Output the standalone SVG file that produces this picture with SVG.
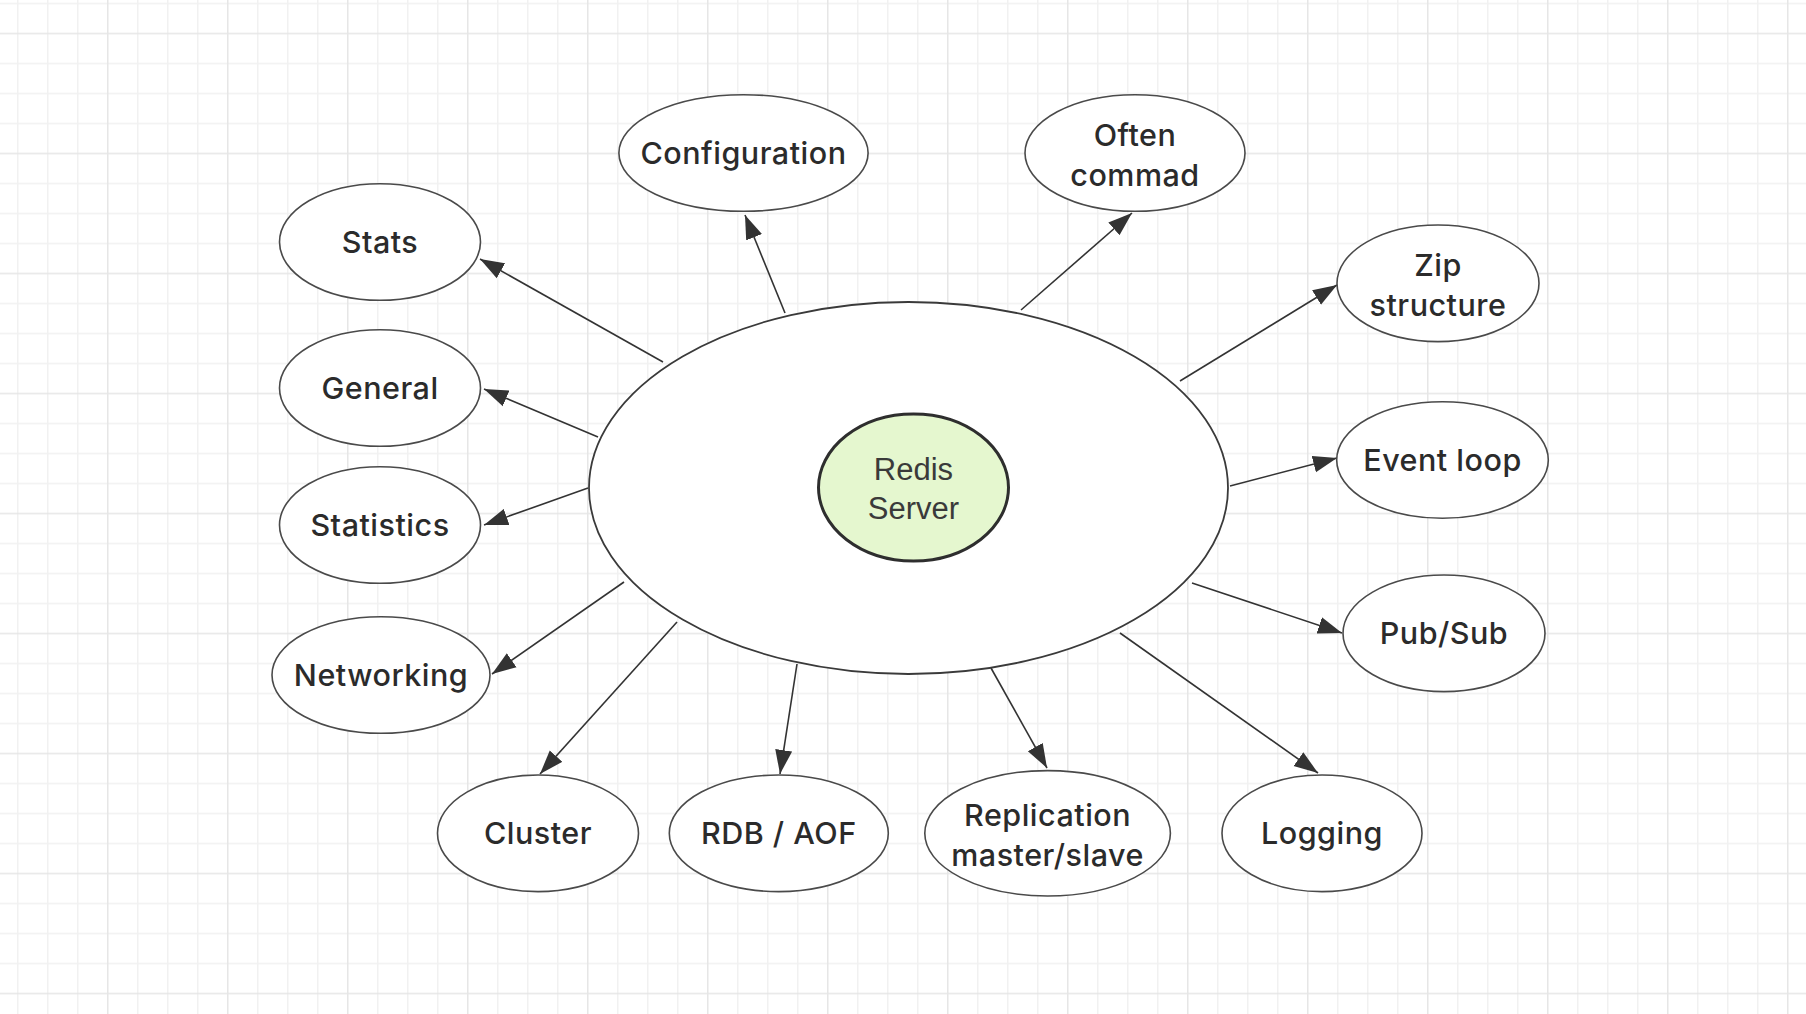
<svg xmlns="http://www.w3.org/2000/svg" width="1806" height="1014" viewBox="0 0 1806 1014">
  <defs>
    <pattern id="grid" patternUnits="userSpaceOnUse" x="107" y="32.7" width="120" height="120">
      <rect x="0" y="0" width="120" height="120" fill="#ffffff"/>
      <rect x="30" y="0" width="1.5" height="120" fill="#f1f1f1"/>
      <rect x="60" y="0" width="1.5" height="120" fill="#f1f1f1"/>
      <rect x="90" y="0" width="1.5" height="120" fill="#f1f1f1"/>
      <rect x="0" y="30" width="120" height="1.5" fill="#f1f1f1"/>
      <rect x="0" y="60" width="120" height="1.5" fill="#f1f1f1"/>
      <rect x="0" y="90" width="120" height="1.5" fill="#f1f1f1"/>
      <rect x="0" y="0" width="1.5" height="120" fill="#e6e6e6"/>
      <rect x="0" y="0" width="120" height="1.5" fill="#e6e6e6"/>
    </pattern>
    <marker id="arrow" markerUnits="userSpaceOnUse" markerWidth="25" markerHeight="18" refX="24" refY="9" orient="auto">
      <path d="M0,0.5 L24,9 L0,17.5 Z" fill="#333333"/>
    </marker>
  </defs>
  <style>
    .node { fill: #ffffff; stroke: #4a4a4a; stroke-width: 1.6; }
    .hub { fill: #ffffff; stroke: #3a3a3a; stroke-width: 1.8; }
    .core { fill: #e5f7cf; stroke: #2e2e2e; stroke-width: 3; }
    .label { font-family: Inter, "Noto Sans", "Liberation Sans", sans-serif; font-weight: 500; font-size: 30.5px; fill: #2b2b2b; text-anchor: middle; letter-spacing: 0.5px; }
    .corelabel { font-family: "Liberation Sans", Arial, sans-serif; font-size: 31px; fill: #3a3a3a; text-anchor: middle; }
    .edge { stroke: #333333; stroke-width: 1.6; fill: none; marker-end: url(#arrow); }
  </style>

  <rect x="0" y="0" width="1806" height="1014" fill="url(#grid)"/>

  <g id="connectors">
    <line class="edge" x1="663" y1="362" x2="480" y2="259"/>
    <line class="edge" x1="598" y1="437" x2="484" y2="389"/>
    <line class="edge" x1="588" y1="488" x2="484" y2="525"/>
    <line class="edge" x1="624" y1="582" x2="492" y2="674"/>
    <line class="edge" x1="677" y1="622" x2="540" y2="774"/>
    <line class="edge" x1="797" y1="664" x2="780" y2="774"/>
    <line class="edge" x1="991" y1="668" x2="1047" y2="768"/>
    <line class="edge" x1="1120" y1="633" x2="1318" y2="773"/>
    <line class="edge" x1="1192" y1="583" x2="1342" y2="633"/>
    <line class="edge" x1="1230" y1="486" x2="1337" y2="458"/>
    <line class="edge" x1="1180" y1="381" x2="1337" y2="285"/>
    <line class="edge" x1="1021" y1="310" x2="1132" y2="213"/>
    <line class="edge" x1="785" y1="313" x2="745" y2="215"/>
  </g>

  <g id="server">
    <ellipse class="hub" cx="908.5" cy="488" rx="319.5" ry="186"/>
  </g>

  <g id="redis-server">
    <ellipse class="core" cx="913.5" cy="487.5" rx="95" ry="73.5"/>
    <text class="corelabel" x="913.5" y="480">Redis</text>
    <text class="corelabel" x="913.5" y="519">Server</text>
  </g>

  <g id="stats">
    <ellipse class="node" cx="380" cy="242" rx="100.5" ry="58.3"/>
    <text class="label" x="380" y="253">Stats</text>
  </g>
  <g id="general">
    <ellipse class="node" cx="380" cy="388" rx="100.5" ry="58.3"/>
    <text class="label" x="380" y="399">General</text>
  </g>
  <g id="statistics">
    <ellipse class="node" cx="380" cy="525" rx="100.5" ry="58.3"/>
    <text class="label" x="380" y="536">Statistics</text>
  </g>
  <g id="networking">
    <ellipse class="node" cx="381" cy="675" rx="109" ry="58.3"/>
    <text class="label" x="381" y="686">Networking</text>
  </g>
  <g id="cluster">
    <ellipse class="node" cx="538" cy="833.3" rx="100.5" ry="58.3"/>
    <text class="label" x="538" y="844">Cluster</text>
  </g>
  <g id="rdb-aof">
    <ellipse class="node" cx="778.8" cy="833.3" rx="109.5" ry="58.3"/>
    <text class="label" x="778.8" y="844">RDB / AOF</text>
  </g>
  <g id="replication">
    <ellipse class="node" cx="1047.6" cy="833.3" rx="122.8" ry="62.7"/>
    <text class="label" x="1047.6" y="826">Replication</text>
    <text class="label" x="1047.6" y="866">master/slave</text>
  </g>
  <g id="logging">
    <ellipse class="node" cx="1322" cy="833.3" rx="100" ry="58.3"/>
    <text class="label" x="1322" y="844">Logging</text>
  </g>
  <g id="pub-sub">
    <ellipse class="node" cx="1444" cy="633.3" rx="101" ry="58.3"/>
    <text class="label" x="1444" y="644">Pub/Sub</text>
  </g>
  <g id="event-loop">
    <ellipse class="node" cx="1442.5" cy="460" rx="105.8" ry="58.3"/>
    <text class="label" x="1442.5" y="471">Event loop</text>
  </g>
  <g id="zip-structure">
    <ellipse class="node" cx="1438" cy="283.3" rx="101" ry="58.3"/>
    <text class="label" x="1438" y="276">Zip</text>
    <text class="label" x="1438" y="316">structure</text>
  </g>
  <g id="often-commad">
    <ellipse class="node" cx="1135" cy="153" rx="110" ry="58.3"/>
    <text class="label" x="1135" y="146">Often</text>
    <text class="label" x="1135" y="186">commad</text>
  </g>
  <g id="configuration">
    <ellipse class="node" cx="743.5" cy="153" rx="124.6" ry="58.3"/>
    <text class="label" x="743.5" y="164">Configuration</text>
  </g>
</svg>
